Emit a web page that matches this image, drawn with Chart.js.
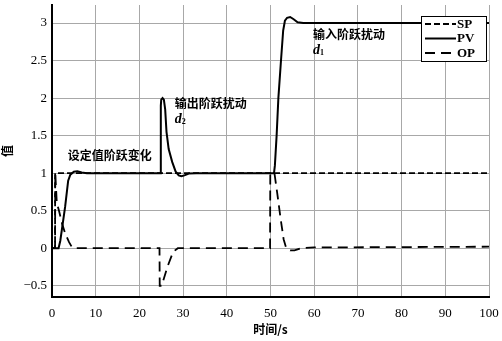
<!DOCTYPE html>
<html>
<head>
<meta charset="utf-8">
<script src="https://cdn.jsdelivr.net/npm/chart.js@4.4.0/dist/chart.umd.min.js"></script>
<style>
  html, body { margin: 0; padding: 0; background: #fff; }
</style>
</head>
<body>
<canvas id="stepChart" width="502" height="341"></canvas>
<script>
// tick labels
const xTicks = [0, 10, 20, 30, 40, 50, 60, 70, 80, 90, 100];
const yTicks = [-0.5, 0, 0.5, 1, 1.5, 2, 2.5, 3];

// set point
const spTime  = [0, 0.7, 0.72, 100];
const spValue = [0, 0, 1, 1];

// process variable
const pvTime  = [0, 1.5, 1.9, 3.0, 3.7, 4.2, 5.0, 5.8, 6.8, 8, 24.8, 24.9, 25.0, 25.3, 25.6, 25.9, 26.2, 26.7, 27.5, 28.3, 29.0, 29.6, 30.3, 31.3, 33, 50.8, 51.0, 51.4, 51.8, 52.4, 52.9, 53.3, 53.8, 54.5, 55.3, 56.2, 57.5, 100];
const pvValue = [0, 0, 0.1, 0.55, 0.9, 0.98, 1.02, 1.025, 1.01, 1.0, 1.0, 1.9, 1.98, 2.0, 1.98, 1.85, 1.55, 1.32, 1.15, 1.02, 0.97, 0.96, 0.97, 0.995, 1.0, 1.0, 1.1, 1.5, 2.0, 2.5, 2.9, 3.03, 3.07, 3.08, 3.05, 3.01, 3.0, 3.0];

// controller output
const opTime  = [0, 0.7, 0.75, 1.1, 1.6, 2.3, 3.0, 3.9, 4.6, 5.5, 24.6, 24.65, 25.1, 26.4, 27.7, 28.8, 49.9, 49.95, 50.9, 51.5, 52.3, 53.0, 53.6, 54.5, 55.5, 57, 60, 100];
const opValue = [0, 0, 1.0, 0.6, 0.5, 0.33, 0.2, 0.08, 0.01, 0, 0, -0.5, -0.5, -0.25, -0.05, 0, 0, 1.0, 1.0, 0.75, 0.4, 0.12, 0.0, -0.03, -0.03, 0.0, 0.01, 0.02];

const seriesNames = ['SP', 'PV', 'OP'];

function zip(t, v) {
    return t.map((x, i) => ({ x: x, y: v[i] }));
}

const serif = "'Liberation Serif', 'DejaVu Serif', serif";
const cjk = "'Noto Sans CJK SC', sans-serif";

// boxed legend inside the plot, like the original figure
const boxLegend = {
    id: 'boxLegend',
    afterDraw(chart) {
        const c = chart.ctx;
        const bx = 421, by = 16, bw = 65, bh = 45;
        c.save();
        c.fillStyle = '#fff';
        c.fillRect(bx, by, bw, bh);
        c.strokeStyle = '#000';
        c.lineWidth = 1;
        c.strokeRect(bx + 0.5, by + 0.5, bw, bh);
        chart.data.datasets.forEach((ds, i) => {
            const y = by + 8 + i * 14.5;
            c.beginPath();
            c.setLineDash(ds.borderDash || []);
            c.lineWidth = ds.borderWidth;
            c.strokeStyle = ds.borderColor;
            c.moveTo(bx + 4, y);
            c.lineTo(bx + 35, y);
            c.stroke();
            c.setLineDash([]);
            c.fillStyle = '#000';
            c.font = 'bold 13px ' + serif;
            c.textBaseline = 'middle';
            c.fillText(ds.label, bx + 36, y + 0.5);
        });
        c.restore();
    }
};

// text notes for the three disturbances
const notes = {
    id: 'notes',
    afterDatasetsDraw(chart) {
        const c = chart.ctx;
        const xs = chart.scales.x, ys = chart.scales.y;
        const items = [
            { t: 3.6,  v: 1.24, text: '设定值阶跃变化' },
            { t: 28.1, v: 1.93, text: '输出阶跃扰动', sub: '2' },
            { t: 59.7, v: 2.85, text: '输入阶跃扰动', sub: '1' }
        ];
        c.save();
        c.fillStyle = '#000';
        c.textBaseline = 'middle';
        items.forEach(it => {
            const px = xs.getPixelForValue(it.t);
            const py = ys.getPixelForValue(it.v);
            c.font = 'bold 12px ' + cjk;
            c.fillText(it.text, px, py);
            if (it.sub) {
                c.font = 'italic bold 14px ' + serif;
                c.fillText('d', px, py + 16);
                c.font = 'bold 8px ' + serif;
                c.fillText(it.sub, px + 7, py + 19);
            }
        });
        c.restore();
    }
};

const ctx = document.getElementById('stepChart').getContext('2d');

new Chart(ctx, {
    type: 'line',
    data: {
        datasets: [{
            label: seriesNames[0],
            data: zip(spTime, spValue),
            borderColor: '#000',
            borderWidth: 1.8,
            borderDash: [6, 3],
            pointRadius: 0,
            fill: false
        }, {
            label: seriesNames[1],
            data: zip(pvTime, pvValue),
            borderColor: '#000',
            borderWidth: 2,
            pointRadius: 0,
            fill: false
        }, {
            label: seriesNames[2],
            data: zip(opTime, opValue),
            borderColor: '#000',
            borderWidth: 1.8,
            borderDash: [10, 6],
            pointRadius: 0,
            fill: false
        }]
    },
    options: {
        responsive: false,
        animation: false,
        layout: { padding: { top: 5, right: 13, left: 0, bottom: 0 } },
        plugins: {
            legend: { display: false },
            tooltip: { enabled: false }
        },
        scales: {
            x: {
                type: 'linear',
                min: 0,
                max: 100,
                afterFit: s => { s.height = 44; s.paddingLeft = 0; s.paddingRight = 0; },
                afterBuildTicks: s => { s.ticks = xTicks.map(v => ({ value: v })); },
                grid: { color: '#a8a8a8', lineWidth: 1, drawTicks: false },
                border: { color: '#000', width: 2 },
                ticks: {
                    padding: 9,
                    color: '#000',
                    maxRotation: 0,
                    font: { family: serif, size: 13 }
                },
                title: {
                    display: true,
                    text: '时间/s',
                    color: '#000',
                    font: { family: cjk, size: 12, weight: 'bold' },
                    padding: { top: 0, bottom: 4 }
                }
            },
            y: {
                min: -0.65,
                max: 3.24,
                afterFit: s => { s.width = 52; s.paddingTop = 0; s.paddingBottom = 0; },
                afterBuildTicks: s => { s.ticks = yTicks.map(v => ({ value: v })); },
                grid: { color: '#a8a8a8', lineWidth: 1, drawTicks: false },
                border: { color: '#000', width: 2 },
                ticks: {
                    padding: 5,
                    color: '#000',
                    font: { family: serif, size: 13 },
                    callback: v => (v < 0 ? '\u2212' + Math.abs(v) : String(v))
                },
                title: {
                    display: true,
                    text: '值',
                    color: '#000',
                    font: { family: cjk, size: 12, weight: 'bold' },
                    padding: 0
                }
            }
        }
    },
    plugins: [notes, boxLegend]
});
</script>
</body>
</html>
